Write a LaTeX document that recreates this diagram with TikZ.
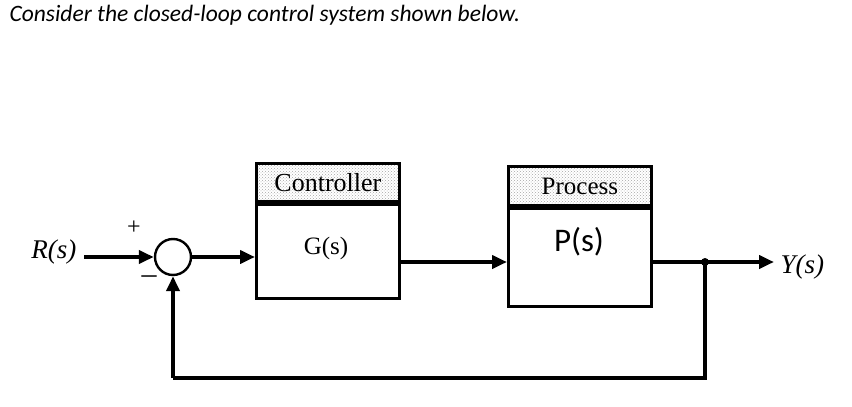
\documentclass[tikz,border=0pt]{standalone}
\usepackage{fontspec}
\setmainfont{Liberation Serif}
\newfontfamily\carl{Carlito}
\usetikzlibrary{arrows.meta,patterns}
\begin{document}
\begin{tikzpicture}[x=1pt,y=-1pt,
  wire/.style={line width=4pt},
  arr/.style={wire,-{Triangle[length=15pt,width=13pt]}},
  blk/.style={draw,line width=2.8pt,minimum width=143pt,inner sep=0pt},
  hdr/.style={draw,line width=2.8pt,minimum width=143pt,inner sep=0pt,pattern=crosshatch dots,pattern color=gray!70}]
\useasboundingbox (0,0) rectangle (852,407);
\node[anchor=west,font=\carl\itshape\fontsize{23.5}{27}\selectfont] (title) at (6,15) {Consider the closed-loop control system shown below.};
% controller
\node[blk,minimum height=94pt,anchor=north west] (g) at (255,203) {};
\node[hdr,minimum height=38pt,anchor=south west] (gh) at (255,203) {};
\node[font=\fontsize{26}{30}\selectfont] (ght) at (gh.center) {Controller};
\node[font=\fontsize{25}{30}\selectfont] (gt) at (326,248) {G(s)};
% process
\node[blk,minimum height=98pt,anchor=north west] (p) at (507,207) {};
\node[hdr,minimum height=39pt,anchor=south west] (ph) at (507,207) {};
\node[font=\fontsize{25}{30}\selectfont] (pht) at (ph.center) {Process};
\node[font=\carl\fontsize{33}{38}\selectfont] (pt) at (579,242) {P(s)};
% sum
\node[draw,circle,line width=2.4pt,minimum size=36pt,inner sep=0pt] (s) at (173,257) {};
\node[font=\fontsize{24}{26}\selectfont] (plus) at (134,228) {+};
\node[font=\fontsize{30}{32}\selectfont] (minus) at (149,280) {--};
\node[font=\itshape\fontsize{27}{30}\selectfont,anchor=east] (r) at (80,252) {R(s)};
\node[font=\itshape\fontsize{27}{30}\selectfont,anchor=west] (y) at (777,267) {Y(s)};
\coordinate (rin) at (84,257);
\coordinate (tap) at (705,262);
\coordinate (yout) at (774,262);
\coordinate (bl) at (173,378);
\coordinate (br) at (705,378);
\draw[arr] (rin) -- (s.west);
\draw[arr] (s.east) -- (g.west |- s.east);
\draw[arr] (g.east |- 0,262) -- (p.west |- 0,262);
\draw[arr] (p.east |- 0,262) -- (yout);
\fill (tap) circle (4pt);
\draw[wire] (tap) -- (br) -- (bl);
\draw[arr] (bl) -- (s.south);
\end{tikzpicture}
\end{document}
